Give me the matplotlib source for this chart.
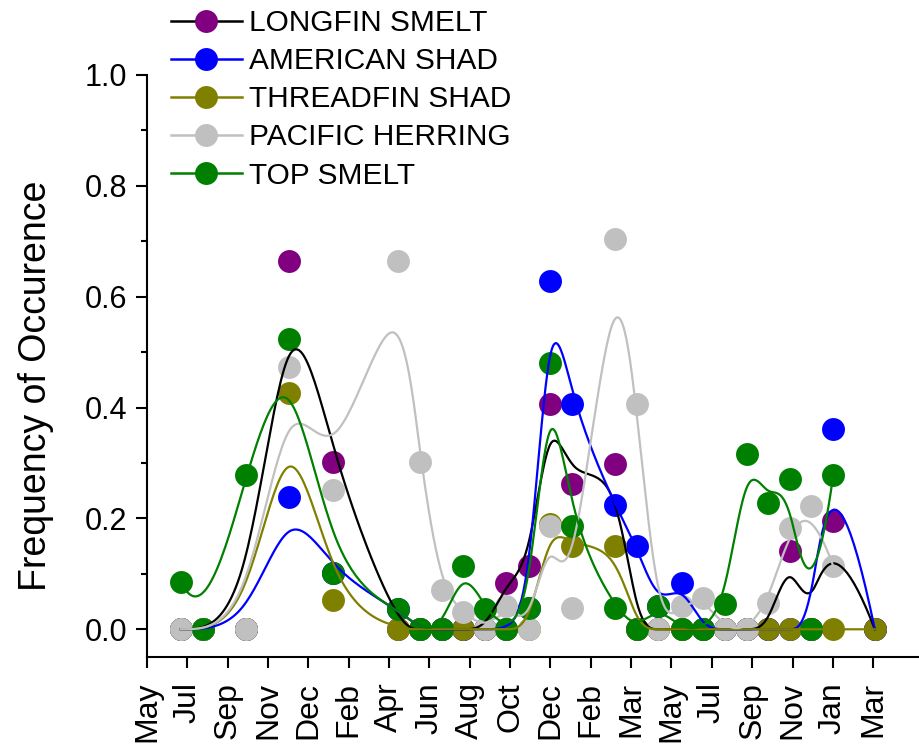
import numpy as np
import matplotlib
matplotlib.use("Agg")
import matplotlib.pyplot as plt
from matplotlib.lines import Line2D

plt.rcParams['font.family'] = ['Liberation Sans', 'DejaVu Sans']

# Sampling occasions on the month axis (tick units) and frequency of occurrence
times = [0.84, 1.39, 2.45, 3.52, 4.61, 6.22, 6.77, 7.30, 7.84, 8.39, 8.91, 9.47, 9.99,
         10.53, 11.59, 12.14, 12.67, 13.25, 13.78, 14.33, 14.87, 15.40, 15.93, 16.47,
         17.01, 18.04]

longfin_smelt = [0, 0, 0, 0.665, 0.301, 0, 0, 0, 0, 0, 0.084, 0.114, 0.406, 0.262,
                 0.298, 0, 0, 0, 0, 0, 0, 0, 0.141, 0, 0.195, 0]
american_shad = [0, 0, 0, 0.239, 0.102, 0.036, 0, 0, 0, 0, 0, 0.039, 0.629, 0.406,
                 0.224, 0.150, 0.042, 0.084, 0, 0, 0, 0, 0, 0, 0.361, 0]
threadfin_shad = [0, 0, 0, 0.427, 0.052, 0, 0, 0, 0, 0, 0, 0, 0.190, 0.150, 0.150,
                  0, 0, 0, 0, 0, 0, 0, 0, 0, 0, 0]
pacific_herring = [0, 0, 0, 0.474, 0.251, 0.665, 0.301, 0.070, 0.031, 0, 0.042, 0,
                   0.186, 0.039, 0.705, 0.406, 0, 0.042, 0.057, 0, 0, 0.048, 0.183,
                   0.222, 0.114, None]
top_smelt = [0.086, 0, 0.278, 0.524, 0.102, 0.036, 0, 0, 0.114, 0.036, 0, 0.039, 0.480,
             0.186, 0.039, 0, 0.042, 0, 0, 0.045, 0.316, 0.228, 0.272, 0, 0.278, None]

month_labels = ['May', 'Jul', 'Sep', 'Nov', 'Dec', 'Feb', 'Apr', 'Jun', 'Aug', 'Oct',
                'Dec', 'Feb', 'Mar', 'May', 'Jul', 'Sep', 'Nov', 'Jan', 'Mar']

series = [
    ('LONGFIN SMELT', longfin_smelt, 'black', '#800080'),
    ('AMERICAN SHAD', american_shad, '#0000FF', '#0000FF'),
    ('THREADFIN SHAD', threadfin_shad, '#808000', '#808000'),
    ('PACIFIC HERRING', pacific_herring, '#C0C0C0', '#C0C0C0'),
    ('TOP SMELT', top_smelt, '#008000', '#008000'),
]


def bspline(xs, ys, k=3, num=600):
    # clamped cubic B-spline with the samples as control points
    P = np.column_stack([xs, ys]).astype(float)
    n = len(P)
    knots = np.concatenate([np.zeros(k), np.arange(n - k + 1), np.full(k, n - k)])
    out = []
    for t in np.linspace(0, n - k, num):
        s = min(np.searchsorted(knots, t, side='right') - 1, n - 1)
        d = [P[j + s - k].copy() for j in range(k + 1)]
        for r in range(1, k + 1):
            for j in range(k, r - 1, -1):
                i = j + s - k
                a = (t - knots[i]) / (knots[i + k + 1 - r] - knots[i])
                d[j] = (1 - a) * d[j - 1] + a * d[j]
        out.append(d[k])
    out = np.array(out)
    return out[:, 0], out[:, 1]


fig = plt.figure(figsize=(9.2, 7.53), dpi=100)
ax = fig.add_axes([0.1598, 0.1275, 0.8402, 0.7729])

handles = []
for i, (name, vals, lc, mc) in enumerate(series):
    x = np.array([t for t, v in zip(times, vals) if v is not None])
    y = np.array([v for v in vals if v is not None])
    ax.plot(x, y, 'o', color=mc, markersize=16.5, markeredgewidth=0,
            zorder=2 + i * 0.01, clip_on=False)
    sx, sy = bspline(x, y)
    ax.plot(sx, sy, '-', color=lc, linewidth=1.6, zorder=3 + i * 0.01)
    handles.append(Line2D([], [], color=lc, linewidth=1.8, marker='o',
                          markerfacecolor=mc, markeredgewidth=0, markersize=16.5))

ax.set_xlim(0, 19.16)
ax.set_ylim(-0.05, 1.0)
ax.set_xticks(range(len(month_labels)))
ax.set_xticklabels(month_labels, rotation=90, fontsize=23)
ax.set_yticks(np.arange(0, 1.01, 0.2))
ax.set_yticklabels([f'{v:.1f}' for v in np.arange(0, 1.01, 0.2)], fontsize=22)
ax.set_yticks(np.arange(0.1, 1.0, 0.2), minor=True)
ax.tick_params(axis='both', which='major', direction='out', length=8, width=1.5)
ax.tick_params(axis='y', which='minor', direction='out', length=4, width=1.5)
ax.tick_params(axis='x', which='major', pad=10)
ax.tick_params(axis='y', which='major', pad=6)

for side in ('top', 'right'):
    ax.spines[side].set_visible(False)
for side in ('left', 'bottom'):
    ax.spines[side].set_linewidth(1.5)

fig.text(0.039, 0.487, 'Frequency of Occurence', rotation=90, ha='center',
         va='center', fontsize=27)

fig.legend(handles, [s[0] for s in series], loc='upper left',
           bbox_to_anchor=(0.183, 0.992), frameon=False, fontsize=21.5,
           handlelength=2.35, handletextpad=0.25, labelspacing=0.34,
           borderpad=0.1, borderaxespad=0)

fig.savefig('out.png', dpi=100)
